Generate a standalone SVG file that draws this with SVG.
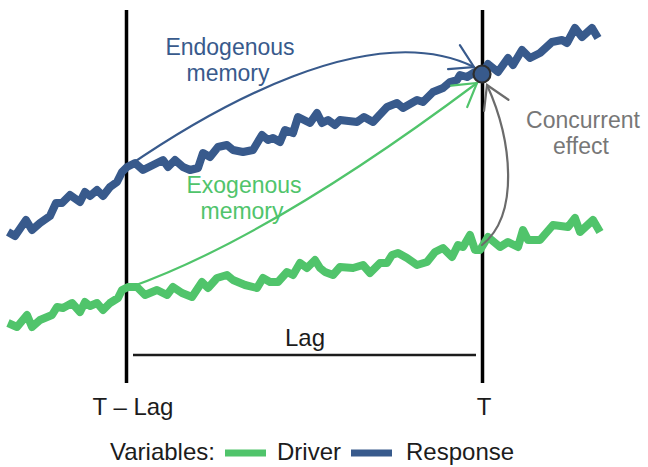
<svg xmlns="http://www.w3.org/2000/svg" width="648" height="467" viewBox="0 0 648 467">
<style>
text{font-family:"Liberation Sans",Arial,Helvetica,sans-serif;font-size:24px;}
.two{font-size:23px;}
.blk{fill:#1c1c1c;}
.series{fill:none;stroke-width:8;stroke-linejoin:round;stroke-linecap:butt;}
.resp{stroke:#385a8c;}
.drv{stroke:#50c46b;}
.vline{stroke:#000;stroke-width:3.5;}
.arr{fill:none;stroke-width:2.2;stroke-linecap:round;}
</style>
<defs>
<marker id="mBlue" markerUnits="userSpaceOnUse" markerWidth="40" markerHeight="40" viewBox="-30 -20 40 40" refX="0" refY="0" orient="auto" overflow="visible">
<path d="M-22.3,-13.4 L0,0 L-22.3,13.4" fill="none" stroke="#385a8c" stroke-width="2.2" stroke-linecap="round"/>
</marker>
<marker id="mGreen" markerUnits="userSpaceOnUse" markerWidth="40" markerHeight="40" viewBox="-30 -20 40 40" refX="0" refY="0" orient="auto" overflow="visible">
<path d="M-22.3,-13.4 L0,0 L-22.3,13.4" fill="none" stroke="#50c46b" stroke-width="2.2" stroke-linecap="round"/>
</marker>
<marker id="mGray" markerUnits="userSpaceOnUse" markerWidth="40" markerHeight="40" viewBox="-30 -20 40 40" refX="0" refY="0" orient="auto" overflow="visible">
<path d="M-22.3,-13.4 L0,0 L-22.3,13.4" fill="none" stroke="#6b6b6b" stroke-width="2.2" stroke-linecap="round"/>
</marker>
</defs>
<rect width="648" height="467" fill="#fff"/>

<g id="time-markers">
<line class="vline" x1="126.5" y1="10" x2="126.5" y2="383"/>
<line class="vline" x1="482.5" y1="10" x2="482.5" y2="383"/>
<line x1="133" y1="355" x2="476" y2="355" stroke="#1c1c1c" stroke-width="2.6"/>
</g>

<g id="series-driver">
<polyline class="series drv" points="8,323 17,327 27,315 32,327 40,320 52,315 57,307 63,308 72,303 80,312 85,302 90,306 97,303 103,310 110,303 118,298 122,290 128,287 137,287 145,295 157,290 167,295 173,287 182,293 192,297 202,282 208,288 217,278 227,275 233,280 245,285 257,288 263,278 270,282 278,282 287,272 293,275 300,263 307,268 315,260 320,268 325,272 333,275 340,267 353,268 363,265 370,273 380,263 387,263 392,255 398,253 407,258 417,265 427,262 435,252 443,248 452,257 458,245 463,247 470,235 475,250 480,250 488,237 500,247 508,242 518,247 523,230 528,240 540,240 553,225 568,227 575,218 580,232 593,220 600,232"/>
</g>

<g id="series-response">
<polyline class="series resp" points="8,232 15,236 26,220 32,230 40,223 50,216 56,203 62,203 70,195 80,202 85,192 90,196 97,190 103,196 110,187 117,182 122,172 127,167 135,163 143,170 153,165 163,160 168,167 175,160 183,167 190,170 198,168 203,153 210,157 218,147 227,145 233,150 243,152 253,150 262,135 268,140 273,138 280,142 285,130 293,133 298,117 310,123 317,113 322,123 328,120 335,125 340,120 357,122 364,117 373,122 387,107 397,103 403,108 417,100 423,102 433,92 443,88 450,82 457,80 460,75 467,77 475,72 482,74 488,64 498,72 508,58 513,65 522,50 530,58 540,53 552,42 562,40 567,43 575,28 582,37 592,28 598,38"/>
</g>

<g id="connectors">
<path id="endogenous-arrow" class="arr" stroke="#385a8c" d="M127,167 C210,110 370,16 474,67" marker-end="url(#mBlue)"/>
<path id="exogenous-arrow" class="arr" stroke="#50c46b" d="M128,288 Q270,238 477,83" marker-end="url(#mGreen)"/>
<path id="concurrent-arrow" class="arr" stroke="#6b6b6b" d="M482,245 C520,215 512,140 487,85" marker-end="url(#mGray)"/>
</g>

<g id="response-at-T">
<circle cx="482" cy="74" r="8.5" fill="#385a8c" stroke="#2e2e2e" stroke-width="2.2"/>
</g>

<g id="labels">
<text class="two" text-anchor="middle" fill="#385a8c"><tspan x="230" y="55">Endogenous</tspan><tspan x="228" y="81">memory</tspan></text>
<text class="two" text-anchor="middle" fill="#50c46b"><tspan x="244" y="193">Exogenous</tspan><tspan x="242" y="219">memory</tspan></text>
<text class="two" text-anchor="middle" fill="#777"><tspan x="583" y="128">Concurrent</tspan><tspan x="581" y="154">effect</tspan></text>
<text class="blk" x="305" y="346" text-anchor="middle">Lag</text>
<text class="blk" x="133" y="415" text-anchor="middle">T – Lag</text>
<text class="blk" x="484" y="415" text-anchor="middle">T</text>
</g>

<g id="legend">
<text class="blk" x="110" y="460">Variables:</text>
<line x1="225" y1="453" x2="266" y2="453" stroke="#50c46b" stroke-width="7"/>
<text class="blk" x="277" y="460">Driver</text>
<line x1="351" y1="453" x2="392" y2="453" stroke="#385a8c" stroke-width="7"/>
<text class="blk" x="406" y="460">Response</text>
</g>
</svg>
